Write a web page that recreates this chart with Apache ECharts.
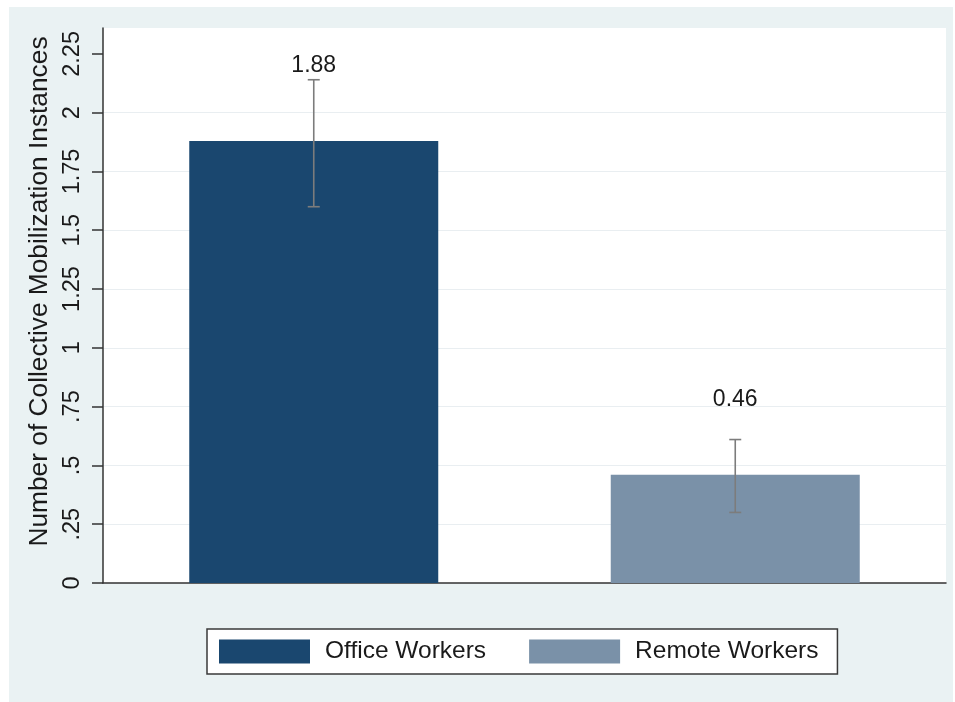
<!DOCTYPE html>
<html>
<head>
<meta charset="utf-8">
<script src="https://cdn.jsdelivr.net/npm/echarts@6/dist/echarts.min.js"></script>
<style>
    html, body { margin: 0; padding: 0; background: #fff; }
    /* Stata 风格的浅蓝灰外框背景 */
    #main {
        width: 955px; height: 702px;
        background: linear-gradient(#eaf2f3, #eaf2f3) no-repeat 9px 7px / 944px 695px, #fff;
    }
</style>
</head>
<body>
<div id="main"></div>
<script>
    // 数据
    var groups = ['Office Workers', 'Remote Workers'];
    var means = [1.88, 0.46];
    var ciLow = [1.60, 0.30];
    var ciHigh = [2.14, 0.61];
    var barColors = ['#1a476f', '#7a91a8'];
    var yTicks = [0, 0.25, 0.5, 0.75, 1, 1.25, 1.5, 1.75, 2, 2.25];
    var yTickLabels = ['0', '.25', '.5', '.75', '1', '1.25', '1.5', '1.75', '2', '2.25'];

    var fontFamily = '"Liberation Sans", Arial, sans-serif';
    var textColor = '#1a1a1a';

    var myChart = echarts.init(document.getElementById('main'));

    // 每组一个系列，方便图例配色
    var barSeries = groups.map(function (name, i) {
        return {
            name: name,
            type: 'bar',
            barWidth: 249,
            barGap: '-100%',
            itemStyle: { color: barColors[i] },
            label: {
                show: true,
                position: 'top',
                distance: 64,
                fontFamily: fontFamily,
                fontSize: 23,
                color: textColor,
                formatter: function (p) { return p.value.toFixed(2); }
            },
            data: groups.map(function (g, j) { return j === i ? means[i] : null; }),
            z: 2
        };
    });

    // 误差线
    var errorSeries = {
        type: 'custom',
        name: 'ci',
        z: 5,
        silent: true,
        renderItem: function (params, api) {
            var x = api.value(0);
            var top = api.coord([x, api.value(2)]);
            var bot = api.coord([x, api.value(1)]);
            var cap = 6;
            var style = { stroke: '#7c7c7c', lineWidth: 1.6 };
            return {
                type: 'group',
                children: [
                    { type: 'line', shape: { x1: top[0], y1: top[1], x2: bot[0], y2: bot[1] }, style: style },
                    { type: 'line', shape: { x1: top[0] - cap, y1: top[1], x2: top[0] + cap, y2: top[1] }, style: style },
                    { type: 'line', shape: { x1: bot[0] - cap, y1: bot[1], x2: bot[0] + cap, y2: bot[1] }, style: style }
                ]
            };
        },
        data: groups.map(function (g, i) { return [i, ciLow[i], ciHigh[i]]; })
    };

    myChart.setOption({
        backgroundColor: 'transparent',
        animation: false,
        textStyle: { fontFamily: fontFamily, color: textColor },
        grid: {
            left: 103, right: 9, top: 28, bottom: 119,
            show: true,
            backgroundColor: '#fff',
            borderWidth: 0
        },
        legend: {
            data: groups,
            left: 207,
            top: 629,
            orient: 'horizontal',
            padding: [10, 19, 10, 12],
            itemGap: 43,
            itemWidth: 91,
            itemHeight: 24,
            backgroundColor: '#fff',
            borderColor: '#3a3a3a',
            borderWidth: 1.5,
            borderRadius: 0,
            icon: 'rect',
            selectedMode: false,
            textStyle: {
                fontFamily: fontFamily,
                fontSize: 24.5,
                color: textColor,
                padding: [0, 0, 0, 10]
            }
        },
        xAxis: {
            type: 'category',
            data: groups,
            axisLine: { show: true, lineStyle: { color: '#333', width: 1.5 } },
            axisTick: { show: false },
            axisLabel: { show: false },
            splitLine: { show: false }
        },
        yAxis: {
            type: 'value',
            min: 0,
            max: 2.36,
            interval: 0.25,
            name: 'Number of Collective Mobilization Instances',
            nameLocation: 'middle',
            nameGap: 43,
            nameTextStyle: {
                fontFamily: fontFamily,
                fontSize: 26.3,
                color: textColor,
                padding: [0, 0, 0, 28]
            },
            axisLine: { show: true, lineStyle: { color: '#333', width: 1.5 } },
            axisTick: {
                show: true,
                length: 11,
                lineStyle: { color: '#333', width: 1.5 },
                customValues: yTicks
            },
            axisLabel: {
                rotate: 90,
                margin: 18,
                fontFamily: fontFamily,
                fontSize: 23.5,
                color: textColor,
                customValues: yTicks,
                formatter: function (v) {
                    var i = yTicks.indexOf(v);
                    return i >= 0 ? yTickLabels[i] : '';
                }
            },
            splitLine: {
                show: true,
                showMaxLine: false,
                lineStyle: { color: '#e9eef1', width: 1.2 }
            }
        },
        series: barSeries.concat([errorSeries])
    });
</script>
</body>
</html>
